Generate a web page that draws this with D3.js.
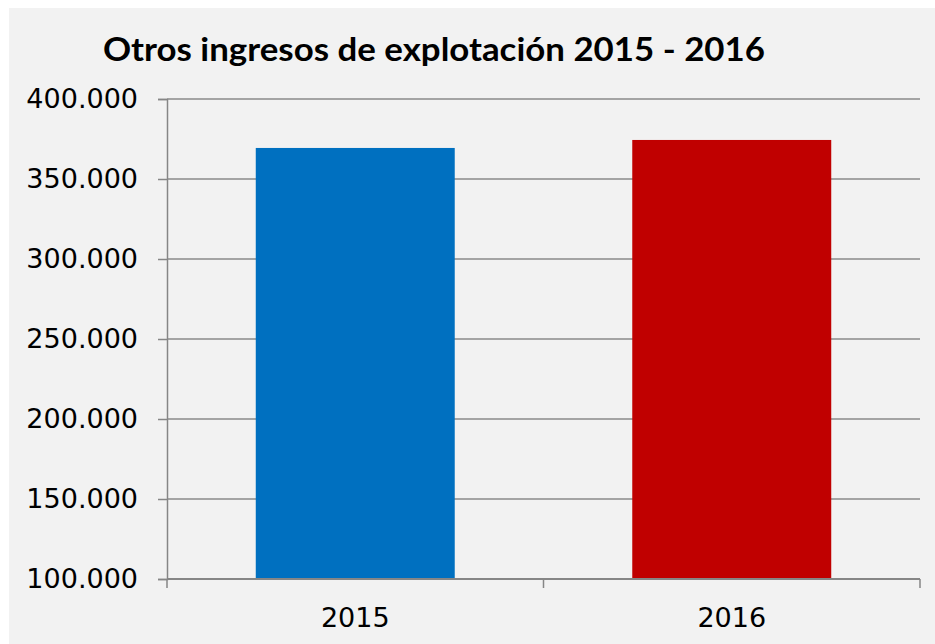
<!DOCTYPE html>
<html>
<head>
<meta charset="utf-8">
<script src="https://cdn.jsdelivr.net/npm/d3@7"></script>
<style>
  body { margin: 0; background: #fff; }
  text { font-family: "DejaVu Sans", sans-serif; fill: #000; }
</style>
</head>
<body>
<div id="my_dataviz"></div>
<script>
// data
var years = ["2015", "2016"];
var values = [369400, 374400];
var barColors = ["#0070c0", "#c00000"];
var yTicks = [100000, 150000, 200000, 250000, 300000, 350000, 400000];
var title = "Otros ingresos de explotación 2015 - 2016";

var W = 935, H = 644;
var margin = { top: 99, right: 15, bottom: 65, left: 167 },
  width = W - margin.left - margin.right,
  height = H - margin.top - margin.bottom;

var root = d3.select("#my_dataviz")
  .append("svg")
  .attr("width", W)
  .attr("height", H);

// grey chart area
root.append("rect")
  .attr("x", 9).attr("y", 8)
  .attr("width", W - 9).attr("height", H - 8)
  .attr("fill", "#f2f2f2");

root.append("text")
  .attr("x", 103)
  .attr("y", 61)
  .attr("textLength", 662)
  .attr("lengthAdjust", "spacingAndGlyphs")
  .style("font-family", "Lato, 'DejaVu Sans', sans-serif")
  .style("font-weight", "bold")
  .style("font-size", "32px")
  .text(title);

var svg = root.append("g")
  .attr("transform", "translate(" + margin.left + "," + margin.top + ")");

var x = d3.scaleBand()
  .domain(years)
  .range([0, width])
  .paddingInner(0.4715)
  .paddingOuter(0.4715 / 2);

var y = d3.scaleLinear()
  .domain([100000, 400000])
  .range([height, 0]);

var fmt = function (d) { return d3.format(",")(d).replace(/,/g, "."); };

// gridlines
svg.append("g")
  .selectAll("line")
  .data(yTicks)
  .join("line")
  .attr("x1", 0)
  .attr("x2", width)
  .attr("y1", d => y(d))
  .attr("y2", d => y(d))
  .attr("stroke", "#8a8a8a")
  .attr("stroke-width", 1.5);

// bars
svg.append("g")
  .selectAll("rect")
  .data(values)
  .join("rect")
  .attr("x", (d, i) => x(years[i]))
  .attr("width", x.bandwidth())
  .attr("y", d => y(d))
  .attr("height", d => height - y(d))
  .attr("fill", (d, i) => barColors[i]);

// Y axis
var yAxis = svg.append("g")
  .call(d3.axisLeft(y).tickValues(yTicks).tickFormat(fmt).tickSize(9).tickPadding(20));
yAxis.selectAll("line, path").attr("stroke", "#868686").attr("stroke-width", 1.5);
yAxis.selectAll("text").style("font-size", "27px").attr("fill", "#000");

// X axis with boundary ticks
var xAxis = svg.append("g")
  .attr("transform", "translate(0," + height + ")");
xAxis.append("line")
  .attr("x1", 0).attr("x2", width)
  .attr("stroke", "#868686").attr("stroke-width", 2);
xAxis.selectAll(".sep")
  .data(d3.range(years.length + 1))
  .join("line")
  .attr("class", "sep")
  .attr("x1", i => i * x.step())
  .attr("x2", i => i * x.step())
  .attr("y1", 0).attr("y2", 9)
  .attr("stroke", "#868686").attr("stroke-width", 1.5);
xAxis.selectAll(".lbl")
  .data(years)
  .join("text")
  .attr("class", "lbl")
  .attr("x", d => x(d) + x.bandwidth() / 2)
  .attr("y", 48)
  .attr("text-anchor", "middle")
  .style("font-size", "27px")
  .text(d => d);
</script>
</body>
</html>
